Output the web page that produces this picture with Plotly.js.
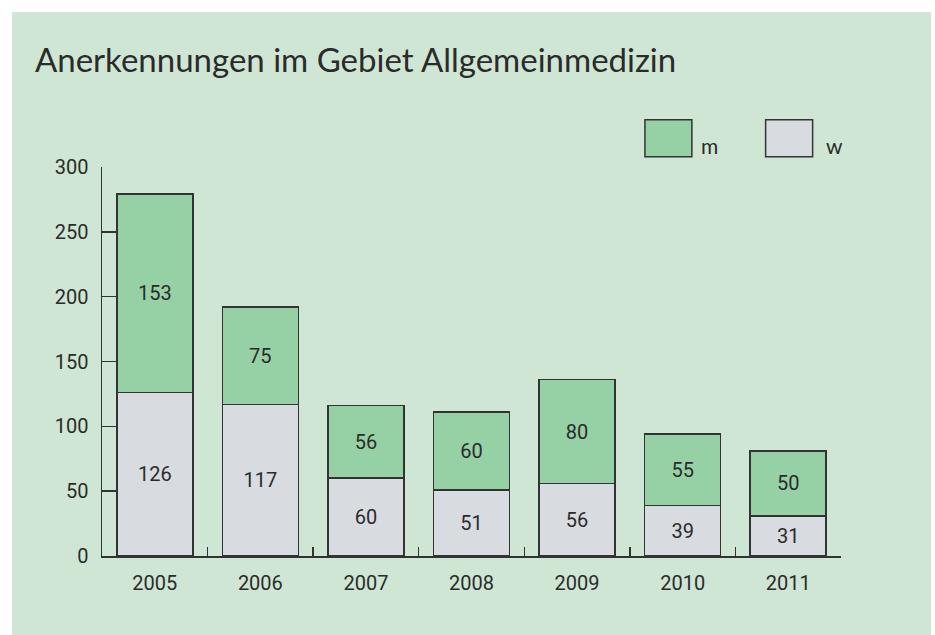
<!DOCTYPE html>
<html>
<head>
<meta charset="utf-8">
<script src="https://cdn.plot.ly/plotly-3.0.1.min.js"></script>
<style>
  html, body { margin: 0; padding: 0; background: #ffffff; }
  #chart { position: absolute; left: 12px; top: 12px; width: 919px; height: 623px; }
</style>
</head>
<body>
<div id="chart"></div>
<script>
// ---- data ----
const years = ['2005', '2006', '2007', '2008', '2009', '2010', '2011'];
const wValues = [126, 117, 60, 51, 56, 39, 31];
const mValues = [153, 75, 56, 60, 80, 55, 50];
const seriesNames = ['m', 'w'];
const titleText = 'Anerkennungen im Gebiet Allgemeinmedizin';
const yTicks = [0, 50, 100, 150, 200, 250, 300];

// ---- style ----
const bg = '#cee6d3';
const green = '#96d1a5';
const gray = '#d8dbdf';
const ink = '#2b2b2b';
const lineCol = '#333333';
const numFont = 'Roboto, "Liberation Sans", sans-serif';
const titleFont = 'Lato, "DejaVu Sans Condensed", "Noto Sans", sans-serif';

const common = {
  type: 'bar',
  x: years,
  width: 0.72,
  textposition: 'inside',
  insidetextanchor: 'middle',
  textangle: 0,
  constraintext: 'none',
  textfont: { family: numFont, size: 20, color: ink },
  hoverinfo: 'skip',
  showlegend: false
};

const traces = [
  Object.assign({}, common, {
    name: seriesNames[1], y: wValues, text: wValues.map(String),
    marker: { color: gray, line: { color: lineCol, width: 1.5 } }
  }),
  Object.assign({}, common, {
    name: seriesNames[0], y: mValues, text: mValues.map(String),
    marker: { color: green, line: { color: lineCol, width: 1.5 } }
  })
];

// legend built from shapes + annotations (large swatches as in reference)
const legendItems = [
  { name: seriesNames[0], color: green, x0: 0.7347, x1: 0.7982, tx: 0.8077 },
  { name: seriesNames[1], color: gray, x0: 0.898, x1: 0.9616, tx: 0.9765 }
];
const shapes = legendItems.map(it => ({
  type: 'rect', xref: 'paper', yref: 'paper',
  x0: it.x0, x1: it.x1, y0: 1.0265, y1: 1.1217,
  fillcolor: it.color, line: { color: lineCol, width: 1.5 }
}));
const annotations = legendItems.map(it => ({
  xref: 'paper', yref: 'paper', x: it.tx, y: 1.055,
  xanchor: 'left', yanchor: 'middle', showarrow: false,
  text: it.name, font: { family: titleFont, size: 21, weight: 400, color: ink }
}));

const layout = {
  width: 919, height: 623,
  paper_bgcolor: bg, plot_bgcolor: 'rgba(0,0,0,0)',
  margin: { l: 89.5, r: 89.6, t: 155.3, b: 79 },
  barmode: 'stack',
  bargap: 0.28,
  showlegend: false,
  title: {
    text: titleText,
    font: { family: titleFont, size: 33, weight: 400, color: ink },
    xref: 'container', yref: 'container',
    x: 23 / 919, xanchor: 'left',
    y: 1 - 48 / 623, yanchor: 'middle'
  },
  xaxis: {
    type: 'category',
    range: [-0.5, 6.5],
    showline: true, linecolor: lineCol, linewidth: 1.5,
    ticks: 'inside', tickson: 'boundaries', ticklen: 9, tickwidth: 1.5, tickcolor: lineCol,
    showgrid: false, zeroline: false,
    tickfont: { family: numFont, size: 20, color: ink },
    ticklabelstandoff: 8,
    fixedrange: true
  },
  yaxis: {
    range: [0, 300],
    tickvals: yTicks,
    showline: true, linecolor: lineCol, linewidth: 1.5,
    ticks: 'inside', ticklen: 15, tickwidth: 1.5, tickcolor: lineCol,
    showgrid: false, zeroline: false,
    tickfont: { family: numFont, size: 20, color: ink },
    ticklabelstandoff: 8,
    fixedrange: true
  },
  shapes: shapes,
  annotations: annotations
};

Plotly.newPlot('chart', traces, layout, { displayModeBar: false, staticPlot: true });
</script>
</body>
</html>
